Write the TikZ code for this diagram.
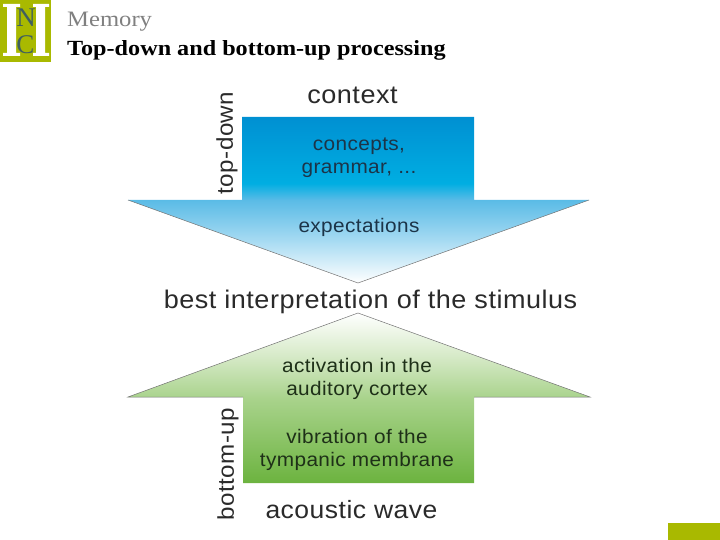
\documentclass[tikz,border=0pt]{standalone}
\usepackage{fontspec}
\setmainfont[FakeStretch=1.06,LetterSpace=2]{Liberation Sans}
\newfontfamily\ttlfont[FakeStretch=1.12]{Liberation Serif}
\newfontfamily\logofont{Liberation Serif}
\definecolor{olivebox}{HTML}{A9B900}
\definecolor{logoteal}{HTML}{3F5F5F}
\definecolor{txtdark}{HTML}{2A2A2A}
\definecolor{txtin}{HTML}{1C3448}
\definecolor{txtgr}{HTML}{1E3018}
\definecolor{bluetop}{HTML}{0090D2}
\definecolor{bluemid}{HTML}{00AEE2}
\definecolor{bluehead}{HTML}{5ABBE6}
\definecolor{bluelow}{HTML}{A5DAF2}
\definecolor{greenbot}{HTML}{6CB33F}
\definecolor{greenmid}{HTML}{A9D38C}
\definecolor{greenlow}{HTML}{D5E9C6}
\pgfdeclareverticalshading{blueshade}{100bp}{
 color(0bp)=(white); color(25bp)=(white);
 color(38bp)=(bluelow); color(50bp)=(bluehead); color(55bp)=(bluemid);
 color(75bp)=(bluetop); color(100bp)=(bluetop)}
\pgfdeclareverticalshading{greenshade}{100bp}{
 color(0bp)=(greenbot); color(25bp)=(greenbot);
 color(50bp)=(greenmid); color(62bp)=(greenlow);
 color(75bp)=(white); color(100bp)=(white)}
\begin{document}
\begin{tikzpicture}[x=1pt,y=-1pt,
  lab/.style={inner sep=0pt,text=txtdark,font=\fontsize{25.5}{26}\selectfont},
  sidelab/.style={inner sep=0pt,text=txtdark,rotate=90,font=\fontsize{22.8}{23}\selectfont},
  inlab/.style={inner sep=0pt,align=center,font=\fontsize{19.6}{23}\selectfont},
  ttl/.style={inner sep=0pt,anchor=base west},
  logoletter/.style={inner sep=0pt,text=logoteal,font=\logofont\fontsize{27}{27}\selectfont},
  edge/.style={draw=black!55,line width=0.5pt}]
\useasboundingbox (0,0) rectangle (720,540);
% logo
\fill[olivebox] (0,0) rectangle (51,62);
\fill[white] (7,6) rectangle (16,54) (3,4) rectangle (20,7) (3,53) rectangle (20,56)
             (36,6) rectangle (45,54) (33,4) rectangle (49,7) (33,53) rectangle (49,56);
\node[logoletter] (logoN) at (26,18) {N};
\node[logoletter] (logoC) at (25.5,45) {C};
% footer block
\fill[olivebox] (668,523) rectangle (720,540);
% title
\node[ttl,text=black!50,font=\ttlfont\fontsize{22}{24}\selectfont] (section) at (67,27) {Memory};
\node[ttl,text=black,font=\ttlfont\bfseries\fontsize{21.6}{24}\selectfont] (title) at (67,56) {Top-down and bottom-up processing};
% arrows
\path[shade,shading=blueshade] (242,117) -- (474,117) -- (474,200) -- (589,200) -- (358,283) -- (128,200) -- (242,200) -- cycle;
\draw[edge] (128,200) -- (358,283) -- (589,200);
\path[shade,shading=greenshade] (358,313) -- (590,397) -- (474,397) -- (474,483) -- (243,483) -- (243,397) -- (128,397) -- cycle;
\draw[edge] (243,397) -- (128,397) -- (358,313) -- (590,397) -- (474,397);
% labels
\node[lab] (context) at (352.5,95) {context};
\node[sidelab] (td) at (227,143) {top-down};
\node[inlab,text=txtin] (concepts) at (359,158) {concepts,\\grammar, ...};
\node[inlab,text=txtin] (expect) at (359,227) {expectations};
\node[lab] (best) at (370.5,302) {best interpretation of the stimulus};
\node[inlab,text=txtgr] (activ) at (357,378.5) {activation in the\\auditory cortex};
\node[inlab,text=txtgr] (vibr) at (357,449.5) {vibration of the\\tympanic membrane};
\node[sidelab] (bu) at (228,464) {bottom-up};
\node[lab,font=\fontsize{25}{26}\selectfont] (wave) at (351.5,510) {acoustic wave};
\end{tikzpicture}
\end{document}
